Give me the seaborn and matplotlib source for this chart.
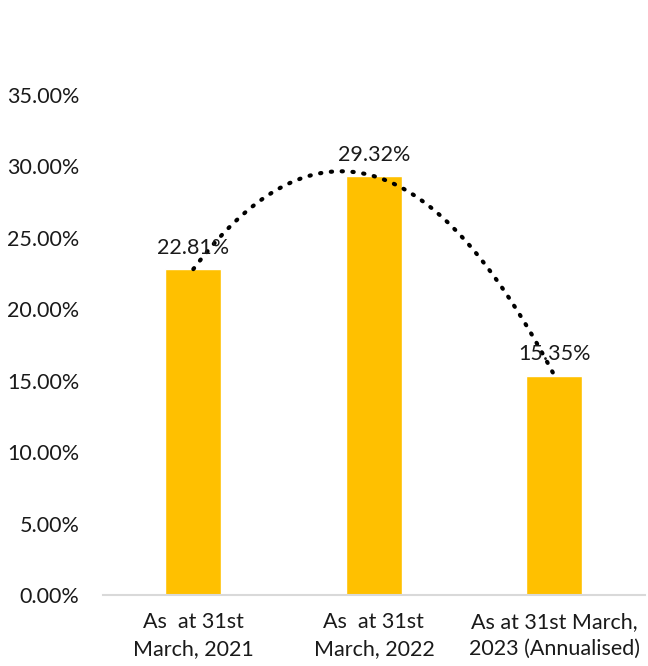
import numpy as np
import pandas as pd
import matplotlib
matplotlib.use("Agg")
import matplotlib.pyplot as plt
import seaborn as sns

categories = ["As  at 31st\nMarch, 2021", "As  at 31st\nMarch, 2022", "As at 31st March,\n2023 (Annualised)"]
values = [22.81, 29.32, 15.35]
value_labels = ["22.81%", "29.32%", "15.35%"]
yticks = [0, 5, 10, 15, 20, 25, 30, 35]
ytick_labels = ["0.00%", "5.00%", "10.00%", "15.00%", "20.00%", "25.00%", "30.00%", "35.00%"]

sns.set_theme(style="white")
plt.rcParams['font.family'] = ['Lato', 'DejaVu Sans']

df = pd.DataFrame({"cat": categories, "val": values})

fig = plt.figure(figsize=(6.48, 6.66), dpi=100)
ax = fig.add_axes([0.159, 0.1066, 0.836, 0.7508])
sns.barplot(data=df, x="cat", y="val", color="#FFC000", width=0.31, ax=ax, saturation=1)

# polynomial (order 2) trendline
xs = np.arange(len(values))
coef = np.polyfit(xs, values, 2)
xf = np.linspace(0, len(values) - 1, 200)
ax.plot(xf, np.polyval(coef, xf), color="black", linestyle=(0, (0.3, 2.3)), linewidth=3.0,
        dash_capstyle="round", zorder=3)

for i, (v, lab) in enumerate(zip(values, value_labels)):
    ax.text(i, v + 0.8, lab, ha="center", va="bottom", fontsize=15.5, color="#1a1a1a", zorder=4)

ax.set_ylim(0, 35)
ax.set_xlim(-0.5, 2.5)
ax.set_yticks(yticks)
ax.set_yticklabels(ytick_labels, fontsize=15.5, color="#1a1a1a")
ax.tick_params(axis="x", labelsize=15.5, colors="#1a1a1a", pad=12, length=0)
for t in ax.get_xticklabels():
    t.set_linespacing(1.45)
ax.tick_params(axis="y", length=0, pad=17)
ax.set_xlabel("")
ax.set_ylabel("")
for s in ["top", "right", "left"]:
    ax.spines[s].set_visible(False)
ax.spines["bottom"].set_color("#D9D9D9")
ax.spines["bottom"].set_linewidth(1.5)

fig.savefig("out.png", dpi=100)
